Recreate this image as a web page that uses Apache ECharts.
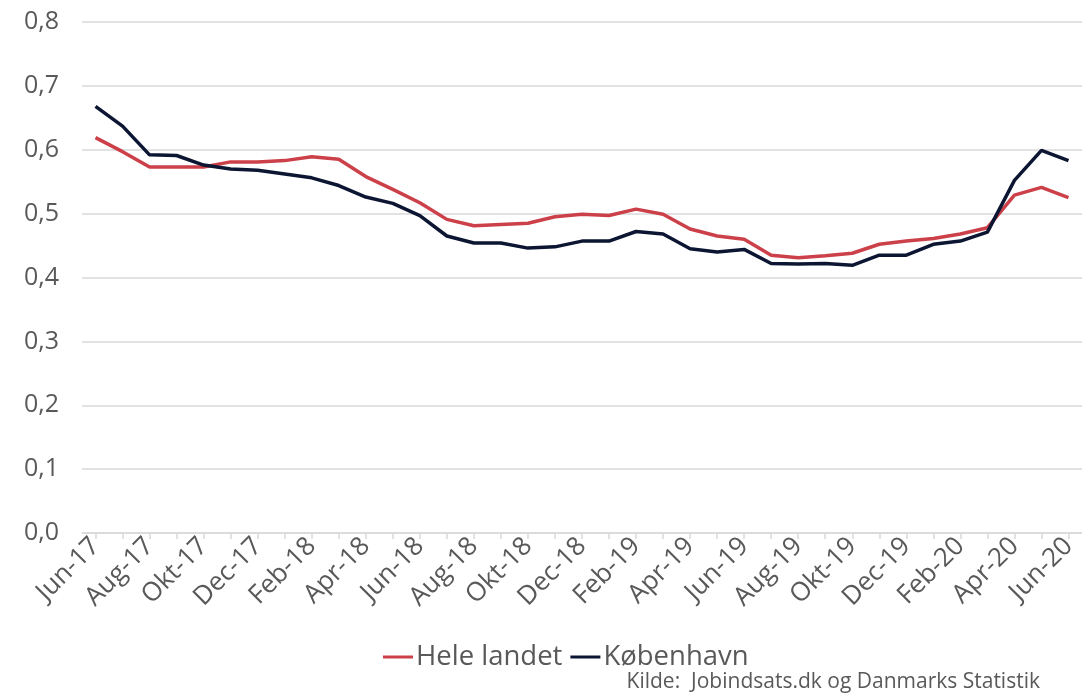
<!DOCTYPE html>
<html><head><meta charset="utf-8">
<script src="https://cdn.jsdelivr.net/npm/echarts@6/dist/echarts.min.js"></script>
<style>html,body{margin:0;padding:0;background:#fff}#c{width:1082px;height:693px}</style>
</head><body><div id="c"></div>
<script>
const categories = ["Jun-17","Jul-17","Aug-17","Sep-17","Okt-17","Nov-17","Dec-17","Jan-18","Feb-18","Mar-18","Apr-18","Maj-18","Jun-18","Jul-18","Aug-18","Sep-18","Okt-18","Nov-18","Dec-18","Jan-19","Feb-19","Mar-19","Apr-19","Maj-19","Jun-19","Jul-19","Aug-19","Sep-19","Okt-19","Nov-19","Dec-19","Jan-20","Feb-20","Mar-20","Apr-20","Maj-20","Jun-20"];
const heleLandet = [0.619,0.597,0.573,0.573,0.573,0.581,0.581,0.583,0.589,0.585,0.558,0.538,0.517,0.491,0.481,0.483,0.485,0.495,0.499,0.497,0.507,0.499,0.476,0.465,0.460,0.435,0.431,0.434,0.438,0.452,0.457,0.461,0.468,0.478,0.529,0.541,0.525];
const koebenhavn = [0.668,0.637,0.592,0.591,0.576,0.570,0.568,0.562,0.556,0.544,0.526,0.516,0.497,0.465,0.454,0.454,0.446,0.448,0.457,0.457,0.472,0.468,0.445,0.440,0.444,0.422,0.421,0.422,0.419,0.435,0.435,0.452,0.457,0.471,0.552,0.599,0.583];
const seriesNames = ["Hele landet","København"];
const sourceText = "Kilde:  Jobindsats.dk og Danmarks Statistik";

const FONT = "'Open Sans'";
const chart = echarts.init(document.getElementById('c'), null, {renderer:'canvas'});
chart.setOption({
  animation:false,
  backgroundColor:'#fff',
  textStyle:{fontFamily:FONT},
  grid:{left:82, top:22, height:511, width:1008, containLabel:false},
  xAxis:{
    type:'category', data:categories, boundaryGap:true,
    axisLine:{lineStyle:{color:'#d9d9d9', width:1.5}},
    axisTick:{show:true, interval:0, alignWithLabel:true, length:6, lineStyle:{color:'#d9d9d9', width:1.5}},
    axisLabel:{interval:1, rotate:45, fontSize:26, color:'#595959', fontFamily:FONT, margin:9}
  },
  yAxis:{
    type:'value', min:0, max:0.8, interval:0.1,
    axisLine:{show:false}, axisTick:{show:false},
    splitLine:{lineStyle:{color:'#d9d9d9', width:1.5}},
    axisLabel:{fontSize:25, color:'#595959', fontFamily:FONT, margin:23,
      formatter:v=>v.toFixed(1).replace('.',',')}
  },
  legend:{
    data:seriesNames, top:638, left:378, icon:'rect', itemWidth:30, itemHeight:3, itemGap:8,
    textStyle:{fontSize:27.5, color:'#595959', fontFamily:FONT, padding:[0,0,0,-2]}
  },
  graphic:[{type:'text', right:42, bottom:0, style:{text:sourceText, fontSize:21, fill:'#595959', fontFamily:FONT}}],
  series:[
    {name:seriesNames[0], type:'line', data:heleLandet, symbol:'none', lineStyle:{color:'#cc4049', width:3.5}, itemStyle:{color:'#cc4049'}},
    {name:seriesNames[1], type:'line', data:koebenhavn, symbol:'none', lineStyle:{color:'#0c1633', width:3.5}, itemStyle:{color:'#0c1633'}}
  ]
});
</script></body></html>
